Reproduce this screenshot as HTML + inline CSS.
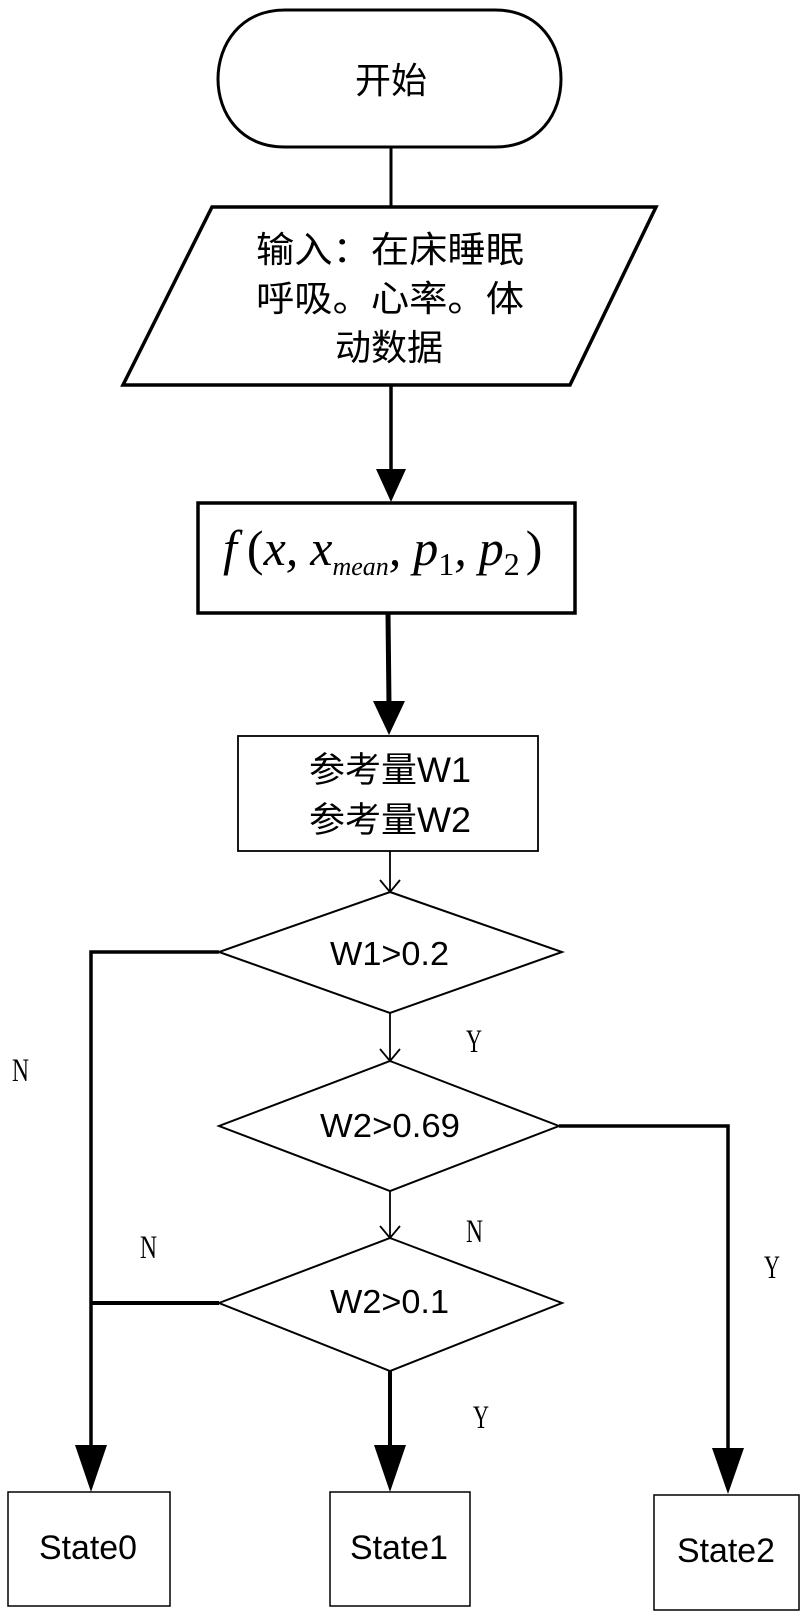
<!DOCTYPE html>
<html><head><meta charset="utf-8"><style>
html,body{margin:0;padding:0;background:#fff;}
svg{display:block;}
text{font-family:"Liberation Sans","Noto Sans CJK SC",sans-serif;fill:#000;}
.s{font-family:"Liberation Serif",serif;}
</style></head><body>
<svg width="806" height="1615" viewBox="0 0 806 1615" xmlns="http://www.w3.org/2000/svg">
<g fill="none" stroke="#000">
<path d="M285 10 H495 C540 10 561 45 561 79 C561 113 540 147 495 147 H285 C240 147 218 113 218 79 C218 45 240 10 285 10 Z" stroke-width="3"/>
<line x1="391" y1="147" x2="391" y2="207" stroke-width="3"/>
<polygon points="212,207 656,207 570,385 123,385" stroke-width="3.5"/>
<line x1="391" y1="385" x2="391" y2="470" stroke-width="3.5"/>
<rect x="198" y="503" width="377" height="110" stroke-width="3.5"/>
<line x1="388" y1="613" x2="389" y2="705" stroke-width="5"/>
<rect x="238" y="736" width="300" height="115" stroke-width="1.8"/>
<line x1="390" y1="851" x2="390" y2="892" stroke-width="1.8"/>
<polyline points="380,880 390,892 400,880" stroke-width="1.8"/>
<polygon points="390,892 562,952 390,1013 219,952" stroke-width="2"/>
<polyline points="219,952 91,952 91,1460" stroke-width="3.5"/>
<line x1="390" y1="1013" x2="390" y2="1061" stroke-width="1.8"/>
<polyline points="380,1049 390,1061 400,1049" stroke-width="1.8"/>
<polygon points="390,1061 559,1126 390,1191 219,1126" stroke-width="2"/>
<polyline points="559,1126 728,1126 728,1460" stroke-width="3.5"/>
<line x1="390" y1="1191" x2="390" y2="1238" stroke-width="1.8"/>
<polyline points="380,1226 390,1238 400,1226" stroke-width="1.8"/>
<polygon points="390,1238 562,1303 390,1371 219,1303" stroke-width="2"/>
<line x1="219" y1="1303" x2="91" y2="1303" stroke-width="4"/>
<line x1="390" y1="1371" x2="390" y2="1460" stroke-width="4"/>
<rect x="8" y="1492" width="162" height="114" stroke-width="1.5"/>
<rect x="330" y="1492" width="140" height="114" stroke-width="1.5"/>
<rect x="654" y="1495" width="145" height="115" stroke-width="1.5"/>
</g>
<g fill="#000">
<polygon points="376,469 406,469 391,502"/>
<polygon points="373,701 405,701 389,735"/>
<polygon points="75,1445 107,1445 91,1492"/>
<polygon points="374,1445 406,1445 390,1492"/>
<polygon points="712,1448 744,1448 728,1494"/>
</g>
<text x="391" y="93" font-size="36" text-anchor="middle">开始</text>
<text x="256" y="262" font-size="36" textLength="268" lengthAdjust="spacingAndGlyphs">输入：在床睡眠</text>
<text x="256" y="311" font-size="36" textLength="268" lengthAdjust="spacingAndGlyphs">呼吸。心率。体</text>
<text x="335" y="360" font-size="36">动数据</text>
<text x="223" y="565" font-size="50" font-style="italic" class="s">f<tspan font-style="normal" dx="10">(</tspan>x,<tspan dx="12">x</tspan><tspan font-size="26" dy="10">mean</tspan><tspan dy="-10">,</tspan><tspan dx="12">p</tspan><tspan font-style="normal" font-size="32" dy="10">1</tspan><tspan dy="-10">,</tspan><tspan dx="12">p</tspan><tspan font-style="normal" font-size="32" dy="10">2</tspan><tspan font-style="normal" dy="-10" dx="6">)</tspan></text>
<text x="309" y="782" font-size="35" textLength="162" lengthAdjust="spacingAndGlyphs">参考量W1</text>
<text x="309" y="832" font-size="35" textLength="162" lengthAdjust="spacingAndGlyphs">参考量W2</text>
<text x="330" y="965" font-size="33" textLength="119" lengthAdjust="spacingAndGlyphs">W1&gt;0.2</text>
<text x="320" y="1137" font-size="33" textLength="140" lengthAdjust="spacingAndGlyphs">W2&gt;0.69</text>
<text x="330" y="1313" font-size="33" textLength="119" lengthAdjust="spacingAndGlyphs">W2&gt;0.1</text>
<text x="39" y="1559" font-size="34" textLength="98" lengthAdjust="spacingAndGlyphs">State0</text>
<text x="350" y="1559" font-size="34" textLength="98" lengthAdjust="spacingAndGlyphs">State1</text>
<text x="677" y="1562" font-size="34" textLength="98" lengthAdjust="spacingAndGlyphs">State2</text>
<g font-size="33">
<text x="466" y="1052" class="s" textLength="16" lengthAdjust="spacingAndGlyphs">Y</text>
<text x="12" y="1081" class="s" textLength="17" lengthAdjust="spacingAndGlyphs">N</text>
<text x="466" y="1242" class="s" textLength="17" lengthAdjust="spacingAndGlyphs">N</text>
<text x="140" y="1258" class="s" textLength="17" lengthAdjust="spacingAndGlyphs">N</text>
<text x="764" y="1278" class="s" textLength="16" lengthAdjust="spacingAndGlyphs">Y</text>
<text x="473" y="1428" class="s" textLength="16" lengthAdjust="spacingAndGlyphs">Y</text>
</g>
</svg>
</body></html>
